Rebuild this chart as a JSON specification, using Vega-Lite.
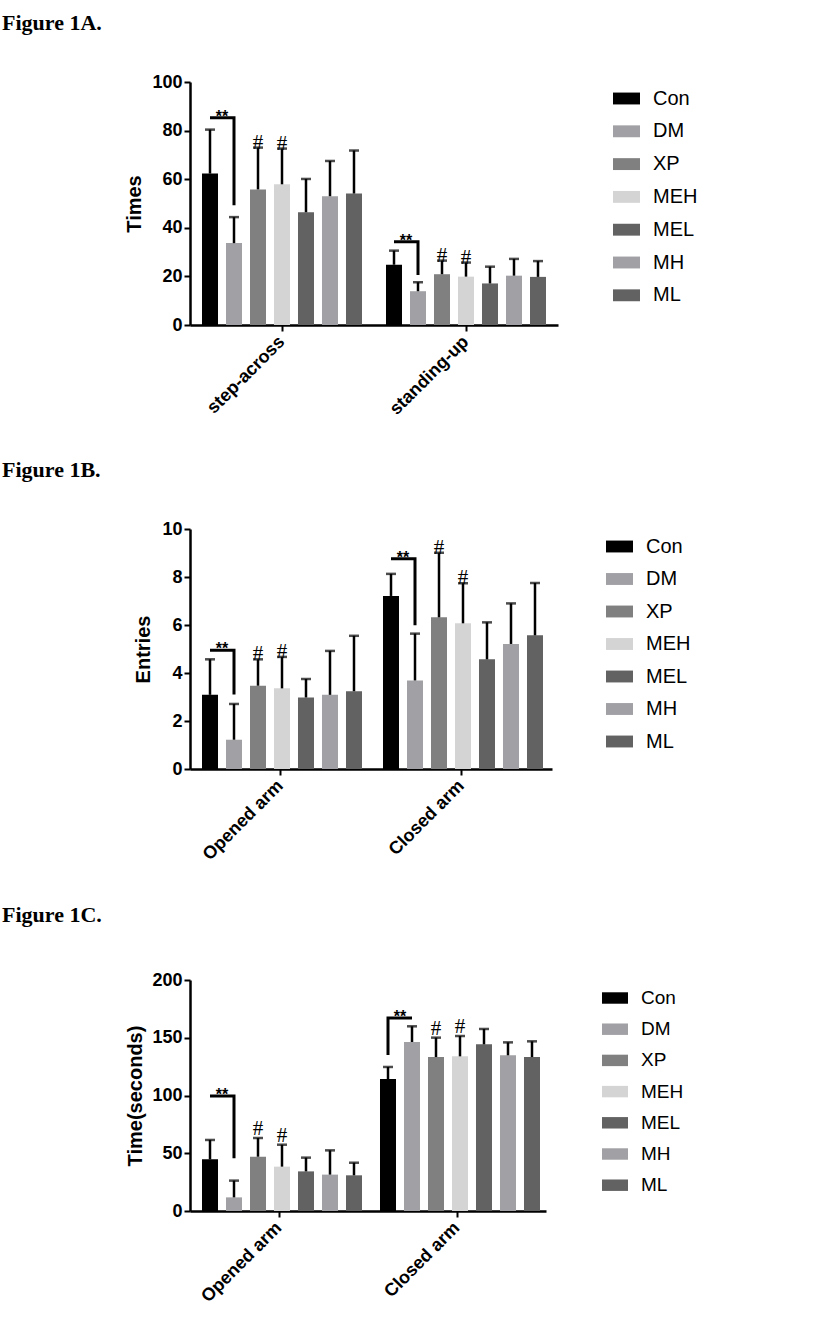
{
  "$schema": "https://vega.github.io/schema/vega-lite/v6.json",
  "padding": {"left": 2, "top": 12, "right": 5, "bottom": 5},
  "background": "white",
  "spacing": 40,
  "resolve": {"scale": {"color": "independent"}, "legend": {"color": "independent"}},
  "config": {
    "view": {"stroke": null},
    "font": "Liberation Sans",
    "axis": {"domainColor": "black", "domainWidth": 2.5, "tickColor": "black", "tickWidth": 2, "tickSize": 6, "labelColor": "black", "titleColor": "black", "grid": false, "labelFont": "Liberation Sans", "labelFontWeight": "bold", "labelFontSize": 18, "titleFont": "Liberation Sans", "titleFontWeight": "bold", "titleFontSize": 20},
    "legend": {"labelFont": "Liberation Sans", "labelFontSize": 20, "labelColor": "black", "symbolType": "M-1,-0.44H1V0.44H-1Z", "symbolSize": 729, "symbolStrokeWidth": 0, "labelOffset": 13, "rowPadding": 9, "padding": 0, "orient": "none", "title": null},
    "title": {"font": "Liberation Serif", "fontSize": 22, "fontWeight": "bold", "color": "black", "anchor": "start", "frame": "group", "dx": -188, "offset": 38}
  },
  "vconcat": [
    {
      "title": "Figure 1A.",
      "width": 368,
      "height": 243,
      "data": {"values": [
        {"test": "step-across", "grp": "Con", "mean": 62.3, "err": 80.4, "sig": ""},
        {"test": "step-across", "grp": "DM", "mean": 33.7, "err": 44.4, "sig": ""},
        {"test": "step-across", "grp": "XP", "mean": 55.8, "err": 73.0, "sig": "#"},
        {"test": "step-across", "grp": "MEH", "mean": 57.9, "err": 72.6, "sig": "#"},
        {"test": "step-across", "grp": "MEL", "mean": 46.4, "err": 60.1, "sig": ""},
        {"test": "step-across", "grp": "MH", "mean": 53.0, "err": 67.5, "sig": ""},
        {"test": "step-across", "grp": "ML", "mean": 54.1, "err": 71.8, "sig": ""},
        {"test": "standing-up", "grp": "Con", "mean": 24.8, "err": 30.6, "sig": ""},
        {"test": "standing-up", "grp": "DM", "mean": 13.9, "err": 17.6, "sig": ""},
        {"test": "standing-up", "grp": "XP", "mean": 20.9, "err": 26.5, "sig": "#"},
        {"test": "standing-up", "grp": "MEH", "mean": 19.9, "err": 25.7, "sig": "#"},
        {"test": "standing-up", "grp": "MEL", "mean": 17.1, "err": 24.0, "sig": ""},
        {"test": "standing-up", "grp": "MH", "mean": 20.3, "err": 27.2, "sig": ""},
        {"test": "standing-up", "grp": "ML", "mean": 19.8, "err": 26.3, "sig": ""}
      ]},
      "encoding": {
        "x": {"field": "test", "type": "nominal", "sort": ["step-across", "standing-up"], "scale": {"paddingInner": 0, "paddingOuter": 0}, "axis": {"title": null, "labelAngle": -45, "labelAlign": "right", "labelBaseline": "middle", "labelPadding": 8}},
        "xOffset": {"field": "grp", "type": "nominal", "scale": {"domain": ["Con", "DM", "XP", "MEH", "MEL", "MH", "ML"], "paddingInner": 0.333, "paddingOuter": 0.5}}
      },
      "layer": [
        {
          "mark": {"type": "bar"},
          "encoding": {
            "y": {"field": "mean", "type": "quantitative", "scale": {"domain": [0, 100]}, "axis": {"title": "Times", "values": [0, 20, 40, 60, 80, 100], "titleX": -56, "titleY": 121.5, "titleBaseline": "middle"}},
            "color": {"field": "grp", "type": "nominal", "scale": {"domain": ["Con", "DM", "XP", "MEH", "MEL", "MH", "ML"], "range": ["#000000", "#a0a0a5", "#808080", "#d4d4d4", "#626262", "#a0a0a5", "#626262"]}, "legend": {"legendX": 423, "legendY": 3, "rowPadding": 8.8}}
          }
        },
        {"mark": {"type": "rule", "color": "black", "strokeWidth": 2.5}, "encoding": {"y": {"field": "mean", "type": "quantitative"}, "y2": {"field": "err"}}},
        {"mark": {"type": "tick", "color": "black", "thickness": 2.5, "size": 10}, "encoding": {"y": {"field": "err", "type": "quantitative"}}},
        {"transform": [{"filter": "datum.sig != ''"}], "mark": {"type": "text", "color": "black", "font": "Liberation Serif", "fontSize": 21, "baseline": "alphabetic", "dy": 1}, "encoding": {"y": {"field": "err", "type": "quantitative"}, "text": {"field": "sig"}}},
        {
          "data": {"values": [
            {"test": "step-across", "grp": "Con", "v": 85.3, "o": 1},
            {"test": "step-across", "grp": "DM", "v": 85.3, "o": 2},
            {"test": "step-across", "grp": "DM", "v": 49.3, "o": 3},
            {"test": "standing-up", "grp": "Con", "v": 34.3, "o": 1},
            {"test": "standing-up", "grp": "DM", "v": 34.3, "o": 2},
            {"test": "standing-up", "grp": "DM", "v": 20.6, "o": 3}
          ]},
          "mark": {"type": "line", "color": "black", "strokeWidth": 3, "strokeJoin": "miter"},
          "encoding": {"y": {"field": "v", "type": "quantitative"}, "order": {"field": "o"}, "detail": {"field": "test"}}
        },
        {
          "data": {"values": [
            {"test": "step-across", "grp": "Con", "v": 85.3, "s": "**"},
            {"test": "standing-up", "grp": "Con", "v": 34.3, "s": "**"}
          ]},
          "mark": {"type": "text", "color": "black", "fontSize": 16, "fontWeight": "bold", "baseline": "alphabetic", "dx": 12, "dy": 4},
          "encoding": {"y": {"field": "v", "type": "quantitative"}, "text": {"field": "s"}}
        }
      ]
    },
    {
      "title": "Figure 1B.",
      "width": 362,
      "height": 240,
      "data": {"values": [
        {"test": "Opened arm", "grp": "Con", "mean": 3.09, "err": 4.57, "sig": ""},
        {"test": "Opened arm", "grp": "DM", "mean": 1.22, "err": 2.71, "sig": ""},
        {"test": "Opened arm", "grp": "XP", "mean": 3.47, "err": 4.57, "sig": "#"},
        {"test": "Opened arm", "grp": "MEH", "mean": 3.36, "err": 4.67, "sig": "#"},
        {"test": "Opened arm", "grp": "MEL", "mean": 2.98, "err": 3.75, "sig": ""},
        {"test": "Opened arm", "grp": "MH", "mean": 3.09, "err": 4.92, "sig": ""},
        {"test": "Opened arm", "grp": "ML", "mean": 3.24, "err": 5.55, "sig": ""},
        {"test": "Closed arm", "grp": "Con", "mean": 7.21, "err": 8.13, "sig": ""},
        {"test": "Closed arm", "grp": "DM", "mean": 3.69, "err": 5.64, "sig": ""},
        {"test": "Closed arm", "grp": "XP", "mean": 6.32, "err": 9.01, "sig": "#"},
        {"test": "Closed arm", "grp": "MEH", "mean": 6.07, "err": 7.74, "sig": "#"},
        {"test": "Closed arm", "grp": "MEL", "mean": 4.57, "err": 6.11, "sig": ""},
        {"test": "Closed arm", "grp": "MH", "mean": 5.21, "err": 6.90, "sig": ""},
        {"test": "Closed arm", "grp": "ML", "mean": 5.57, "err": 7.75, "sig": ""}
      ]},
      "encoding": {
        "x": {"field": "test", "type": "nominal", "sort": ["Opened arm", "Closed arm"], "scale": {"paddingInner": 0, "paddingOuter": 0}, "axis": {"title": null, "labelAngle": -45, "labelAlign": "right", "labelBaseline": "middle", "labelPadding": 8}},
        "xOffset": {"field": "grp", "type": "nominal", "scale": {"domain": ["Con", "DM", "XP", "MEH", "MEL", "MH", "ML"], "paddingInner": 0.333, "paddingOuter": 0.5}}
      },
      "layer": [
        {
          "mark": {"type": "bar"},
          "encoding": {
            "y": {"field": "mean", "type": "quantitative", "scale": {"domain": [0, 10]}, "axis": {"title": "Entries", "values": [0, 2, 4, 6, 8, 10], "titleX": -47, "titleY": 120, "titleBaseline": "middle"}},
            "color": {"field": "grp", "type": "nominal", "scale": {"domain": ["Con", "DM", "XP", "MEH", "MEL", "MH", "ML"], "range": ["#000000", "#a0a0a5", "#808080", "#d4d4d4", "#626262", "#a0a0a5", "#626262"]}, "legend": {"legendX": 416, "legendY": 4, "rowPadding": 8.5}}
          }
        },
        {"mark": {"type": "rule", "color": "black", "strokeWidth": 2.5}, "encoding": {"y": {"field": "mean", "type": "quantitative"}, "y2": {"field": "err"}}},
        {"mark": {"type": "tick", "color": "black", "thickness": 2.5, "size": 10}, "encoding": {"y": {"field": "err", "type": "quantitative"}}},
        {"transform": [{"filter": "datum.sig != ''"}], "mark": {"type": "text", "color": "black", "font": "Liberation Serif", "fontSize": 21, "baseline": "alphabetic", "dy": 1}, "encoding": {"y": {"field": "err", "type": "quantitative"}, "text": {"field": "sig"}}},
        {
          "data": {"values": [
            {"test": "Opened arm", "grp": "Con", "v": 4.95, "o": 1},
            {"test": "Opened arm", "grp": "DM", "v": 4.95, "o": 2},
            {"test": "Opened arm", "grp": "DM", "v": 3.1, "o": 3},
            {"test": "Closed arm", "grp": "Con", "v": 8.76, "o": 1},
            {"test": "Closed arm", "grp": "DM", "v": 8.76, "o": 2},
            {"test": "Closed arm", "grp": "DM", "v": 5.99, "o": 3}
          ]},
          "mark": {"type": "line", "color": "black", "strokeWidth": 3, "strokeJoin": "miter"},
          "encoding": {"y": {"field": "v", "type": "quantitative"}, "order": {"field": "o"}, "detail": {"field": "test"}}
        },
        {
          "data": {"values": [
            {"test": "Opened arm", "grp": "Con", "v": 4.95, "s": "**"},
            {"test": "Closed arm", "grp": "Con", "v": 8.76, "s": "**"}
          ]},
          "mark": {"type": "text", "color": "black", "fontSize": 16, "fontWeight": "bold", "baseline": "alphabetic", "dx": 12, "dy": 4},
          "encoding": {"y": {"field": "v", "type": "quantitative"}, "text": {"field": "s"}}
        }
      ]
    },
    {
      "title": {"text": "Figure 1C.", "offset": 44},
      "width": 356,
      "height": 231,
      "data": {"values": [
        {"test": "Opened arm", "grp": "Con", "mean": 44.7, "err": 61.5, "sig": ""},
        {"test": "Opened arm", "grp": "DM", "mean": 11.8, "err": 26.3, "sig": ""},
        {"test": "Opened arm", "grp": "XP", "mean": 47.0, "err": 63.2, "sig": "#"},
        {"test": "Opened arm", "grp": "MEH", "mean": 38.4, "err": 57.4, "sig": "#"},
        {"test": "Opened arm", "grp": "MEL", "mean": 34.3, "err": 46.2, "sig": ""},
        {"test": "Opened arm", "grp": "MH", "mean": 31.5, "err": 52.5, "sig": ""},
        {"test": "Opened arm", "grp": "ML", "mean": 30.9, "err": 41.8, "sig": ""},
        {"test": "Closed arm", "grp": "Con", "mean": 114.3, "err": 124.7, "sig": ""},
        {"test": "Closed arm", "grp": "DM", "mean": 146.3, "err": 159.9, "sig": ""},
        {"test": "Closed arm", "grp": "XP", "mean": 133.3, "err": 150.1, "sig": "#"},
        {"test": "Closed arm", "grp": "MEH", "mean": 133.9, "err": 151.5, "sig": "#"},
        {"test": "Closed arm", "grp": "MEL", "mean": 144.3, "err": 157.6, "sig": ""},
        {"test": "Closed arm", "grp": "MH", "mean": 134.8, "err": 146.0, "sig": ""},
        {"test": "Closed arm", "grp": "ML", "mean": 133.3, "err": 146.9, "sig": ""}
      ]},
      "encoding": {
        "x": {"field": "test", "type": "nominal", "sort": ["Opened arm", "Closed arm"], "scale": {"paddingInner": 0, "paddingOuter": 0}, "axis": {"title": null, "labelAngle": -45, "labelAlign": "right", "labelBaseline": "middle", "labelPadding": 8}},
        "xOffset": {"field": "grp", "type": "nominal", "scale": {"domain": ["Con", "DM", "XP", "MEH", "MEL", "MH", "ML"], "paddingInner": 0.333, "paddingOuter": 0.5}}
      },
      "layer": [
        {
          "mark": {"type": "bar"},
          "encoding": {
            "y": {"field": "mean", "type": "quantitative", "scale": {"domain": [0, 200]}, "axis": {"title": "Time(seconds)", "values": [0, 50, 100, 150, 200], "titleX": -55, "titleY": 115.5, "titleBaseline": "middle"}},
            "color": {"field": "grp", "type": "nominal", "scale": {"domain": ["Con", "DM", "XP", "MEH", "MEL", "MH", "ML"], "range": ["#000000", "#a0a0a5", "#808080", "#d4d4d4", "#626262", "#a0a0a5", "#626262"]}, "legend": {"legendX": 412, "legendY": 5, "labelFontSize": 19, "symbolSize": 676, "rowPadding": 8.2}}
          }
        },
        {"mark": {"type": "rule", "color": "black", "strokeWidth": 2.5}, "encoding": {"y": {"field": "mean", "type": "quantitative"}, "y2": {"field": "err"}}},
        {"mark": {"type": "tick", "color": "black", "thickness": 2.5, "size": 10}, "encoding": {"y": {"field": "err", "type": "quantitative"}}},
        {"transform": [{"filter": "datum.sig != ''"}], "mark": {"type": "text", "color": "black", "font": "Liberation Serif", "fontSize": 21, "baseline": "alphabetic", "dy": -3}, "encoding": {"y": {"field": "err", "type": "quantitative"}, "text": {"field": "sig"}}},
        {
          "data": {"values": [
            {"test": "Opened arm", "grp": "Con", "v": 99.6, "o": 1},
            {"test": "Opened arm", "grp": "DM", "v": 99.6, "o": 2},
            {"test": "Opened arm", "grp": "DM", "v": 45.6, "o": 3},
            {"test": "Closed arm", "grp": "Con", "v": 135, "o": 1},
            {"test": "Closed arm", "grp": "Con", "v": 167, "o": 2},
            {"test": "Closed arm", "grp": "DM", "v": 167, "o": 3}
          ]},
          "mark": {"type": "line", "color": "black", "strokeWidth": 3, "strokeJoin": "miter"},
          "encoding": {"y": {"field": "v", "type": "quantitative"}, "order": {"field": "o"}, "detail": {"field": "test"}}
        },
        {
          "data": {"values": [
            {"test": "Opened arm", "grp": "Con", "v": 99.6, "s": "**"},
            {"test": "Closed arm", "grp": "Con", "v": 167, "s": "**"}
          ]},
          "mark": {"type": "text", "color": "black", "fontSize": 16, "fontWeight": "bold", "baseline": "alphabetic", "dx": 12, "dy": 4},
          "encoding": {"y": {"field": "v", "type": "quantitative"}, "text": {"field": "s"}}
        }
      ]
    }
  ]
}
